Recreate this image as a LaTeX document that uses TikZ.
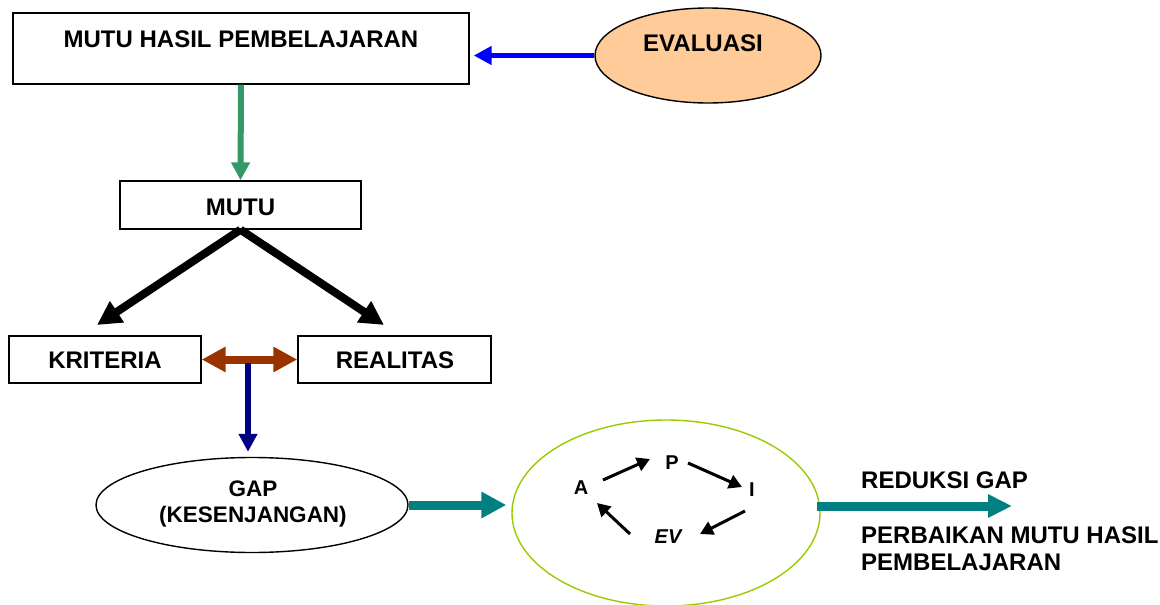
\documentclass[tikz,border=0pt]{standalone}
\usepackage{fontspec}
\setmainfont{Liberation Sans}
\usetikzlibrary{arrows.meta,shapes.geometric,calc}
\definecolor{cblue}{HTML}{0000FF}
\definecolor{cgreen}{HTML}{339966}
\definecolor{cbrown}{HTML}{993300}
\definecolor{cnavy}{HTML}{000080}
\definecolor{cteal}{HTML}{008080}
\definecolor{cpeach}{HTML}{FFCC99}
\definecolor{clime}{HTML}{99CC00}
\begin{document}
\begin{tikzpicture}[x=1pt,y=-1pt,
  lbl/.style={font=\fontsize{24}{27}\selectfont\bfseries, inner sep=0pt},
  lblsmall/.style={font=\fontsize{22.5}{26}\selectfont\bfseries, align=center, inner sep=0pt},
  cyclbl/.style={font=\fontsize{20}{22}\selectfont\bfseries, inner sep=0pt},
  boxnode/.style={draw, line width=1.4pt, rectangle, inner sep=0pt},
  ellnode/.style={draw, line width=1.4pt, ellipse, inner sep=0pt},
  cycarrow/.style={line width=3pt, -{Triangle[length=13pt,width=14pt]}}
]
\useasboundingbox (0,0) rectangle (1160,605);

% boxes and ellipses
\node[boxnode, minimum width=456pt, minimum height=71pt] (b1) at (241,48.5) {};
\node[lbl] (b1t) at (241,39) {MUTU HASIL PEMBELAJARAN};
\node[ellnode, fill=cpeach, minimum width=226pt, minimum height=95pt] (eval) at (708,55.5) {};
\node[lbl] (evalt) at (703,43.5) {EVALUASI};
\node[boxnode, minimum width=241pt, minimum height=48pt] (mutu) at (240.5,205) {};
\node[lbl] (mutut) at (240.5,207) {MUTU};
\node[boxnode, minimum width=192pt, minimum height=47pt] (krit) at (105,359.5) {};
\node[lbl] (kritt) at (105,360) {KRITERIA};
\node[boxnode, minimum width=193pt, minimum height=47pt] (real) at (394.5,359.5) {};
\node[lbl] (realt) at (395,360) {REALITAS};
\node[ellnode, minimum width=312pt, minimum height=95pt] (gap) at (252,505) {};
\node[lblsmall] (gapt) at (253,504) {GAP\\(KESENJANGAN)};
\node[draw=clime, line width=1.4pt, ellipse, minimum width=308pt, minimum height=186pt, inner sep=0pt] (cyc) at (666,513) {};

% cycle labels
\node[cyclbl] (A) at (581,488) {A};
\node[cyclbl] (P) at (672,463) {P};
\node[cyclbl] (I) at (752,490) {I};
\node[cyclbl, font=\fontsize{20}{22}\selectfont\bfseries\itshape] (EV) at (668,537) {EV};

% right texts
\node[lbl, anchor=west] (red) at (861,480) {REDUKSI GAP};
\node[lbl, anchor=north west, align=left, font=\fontsize{24}{27}\selectfont\bfseries] (perb) at (861,527) {PERBAIKAN MUTU HASIL\\PEMBELAJARAN};

% helper coordinates
\coordinate (kTip) at (97,325);
\coordinate (rTip) at (384,325);
\coordinate (navyTop) at (248,363);
\coordinate (outStart) at (817,506);
\coordinate (outTip) at (1012,506);

% connectors
\draw[cblue, line width=5.5pt, -{Triangle[length=18pt,width=18pt]}, shorten >=4pt]
  (eval.west) -- (eval.west -| b1.east);
\draw[cgreen, line width=6pt, -{Triangle[length=18pt,width=18pt]}]
  (b1.south) -- (mutu.north);
\draw[black, line width=8pt, -{Triangle[length=24pt,width=24pt]}] (mutu.south) -- (kTip);
\draw[black, line width=8pt, -{Triangle[length=24pt,width=24pt]}] (mutu.south) -- (rTip);
\draw[cbrown, line width=8pt, {Triangle[length=24pt,width=24pt]}-{Triangle[length=24pt,width=24pt]}]
  (krit.east) -- (real.west);
\draw[cnavy, line width=5.5pt, -{Triangle[length=18pt,width=18pt]}, shorten >=5pt]
  (navyTop) -- (navyTop |- gap.north);
\draw[cteal, line width=9pt, -{Triangle[length=25pt,width=25pt]}, shorten >=5pt]
  (gap.east) -- (gap.east -| cyc.west);
\draw[cteal, line width=9pt, -{Triangle[length=24pt,width=22pt]}]
  (outStart) -- (outTip);

% cycle arrows
\draw[cycarrow] ($(A)+(22,-8)$) -- ($(P)+(-22,-4)$);
\draw[cycarrow] ($(P)+(16,0)$) -- ($(I)+(-10,-3)$);
\draw[cycarrow] ($(I)+(-7,21)$) -- ($(EV)+(32,-3)$);
\draw[cycarrow] ($(EV)+(-38,-3)$) -- ($(A)+(16,15)$);
\end{tikzpicture}
\end{document}
